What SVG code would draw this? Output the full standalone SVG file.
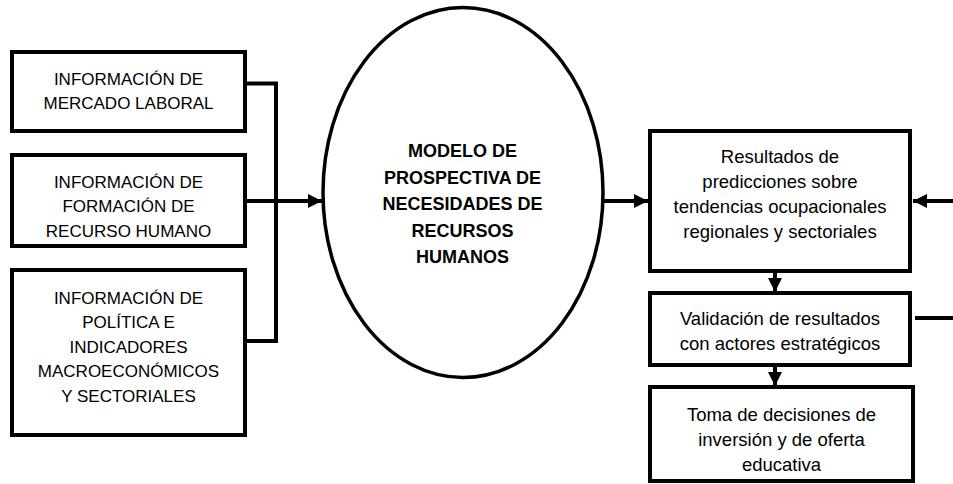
<svg xmlns="http://www.w3.org/2000/svg" width="953" height="484" viewBox="0 0 953 484">
<style>
.box{fill:#fff;stroke:#000;stroke-width:4}
.ell{fill:#fff;stroke:#000;stroke-width:3.5}
.line{fill:none;stroke:#000;stroke-width:4}
.caps{font-family:"Liberation Sans",Arial,sans-serif;font-size:17px;fill:#000;text-anchor:middle}
.low{font-family:"Liberation Sans",Arial,sans-serif;font-size:18.5px;fill:#000;text-anchor:middle}
.bold{font-family:"Liberation Sans",Arial,sans-serif;font-size:18px;font-weight:bold;fill:#000;text-anchor:middle}
</style>
<defs>
<marker id="ah" viewBox="0 0 14 14" refX="14" refY="7" markerWidth="14" markerHeight="14" markerUnits="userSpaceOnUse" orient="auto">
<path d="M0,0 L14,7 L0,14 Z" fill="#000"/>
</marker>
</defs>
<rect width="953" height="484" fill="#fff"/>
<g id="connectors">
<polyline class="line" points="245,83.5 276,83.5 276,341 245,341"/>
<line class="line" x1="245" y1="201" x2="322" y2="201" marker-end="url(#ah)"/>
<line class="line" x1="603" y1="201" x2="648" y2="201" marker-end="url(#ah)"/>
<line class="line" x1="953" y1="201" x2="913" y2="201" marker-end="url(#ah)"/>
<line class="line" x1="915" y1="318" x2="953" y2="318"/>
<line class="line" x1="775" y1="271" x2="775" y2="292" marker-end="url(#ah)"/>
<line class="line" x1="775" y1="365" x2="775" y2="386" marker-end="url(#ah)"/>
</g>
<g id="n1">
<rect class="box" x="12" y="52" width="233" height="79"/>
<text class="caps" x="128.5" y="85">INFORMACIÓN DE</text>
<text class="caps" x="128.5" y="109">MERCADO LABORAL</text>
</g>
<g id="n2">
<rect class="box" x="12" y="155" width="233" height="91"/>
<text class="caps" x="128.5" y="188">INFORMACIÓN DE</text>
<text class="caps" x="128.5" y="212">FORMACIÓN DE</text>
<text class="caps" x="128.5" y="237">RECURSO HUMANO</text>
</g>
<g id="n3">
<rect class="box" x="12" y="270" width="233" height="165"/>
<text class="caps" x="128.5" y="304">INFORMACIÓN DE</text>
<text class="caps" x="128.5" y="328">POLÍTICA E</text>
<text class="caps" x="128.5" y="353">INDICADORES</text>
<text class="caps" x="128.5" y="377">MACROECONÓMICOS</text>
<text class="caps" x="128.5" y="402">Y SECTORIALES</text>
</g>
<g id="model">
<ellipse class="ell" cx="463" cy="192.5" rx="140" ry="185"/>
<text class="bold" x="462.5" y="157">MODELO DE</text>
<text class="bold" x="462.5" y="183.5">PROSPECTIVA DE</text>
<text class="bold" x="462.5" y="210">NECESIDADES DE</text>
<text class="bold" x="462.5" y="236.5">RECURSOS</text>
<text class="bold" x="462.5" y="263">HUMANOS</text>
</g>
<g id="results">
<rect class="box" x="650" y="131" width="260" height="140"/>
<text class="low" x="780" y="163">Resultados de</text>
<text class="low" x="780" y="188">predicciones sobre</text>
<text class="low" x="780" y="212.5">tendencias ocupacionales</text>
<text class="low" x="780" y="237.5">regionales y sectoriales</text>
</g>
<g id="validation">
<rect class="box" x="650" y="293" width="260" height="72"/>
<text class="low" x="780" y="325">Validación de resultados</text>
<text class="low" x="780" y="350">con actores estratégicos</text>
</g>
<g id="decision">
<rect class="box" x="650" y="387" width="263" height="94"/>
<text class="low" x="781.5" y="421">Toma de decisiones de</text>
<text class="low" x="781.5" y="446">inversión y de oferta</text>
<text class="low" x="781.5" y="471">educativa</text>
</g>
</svg>
